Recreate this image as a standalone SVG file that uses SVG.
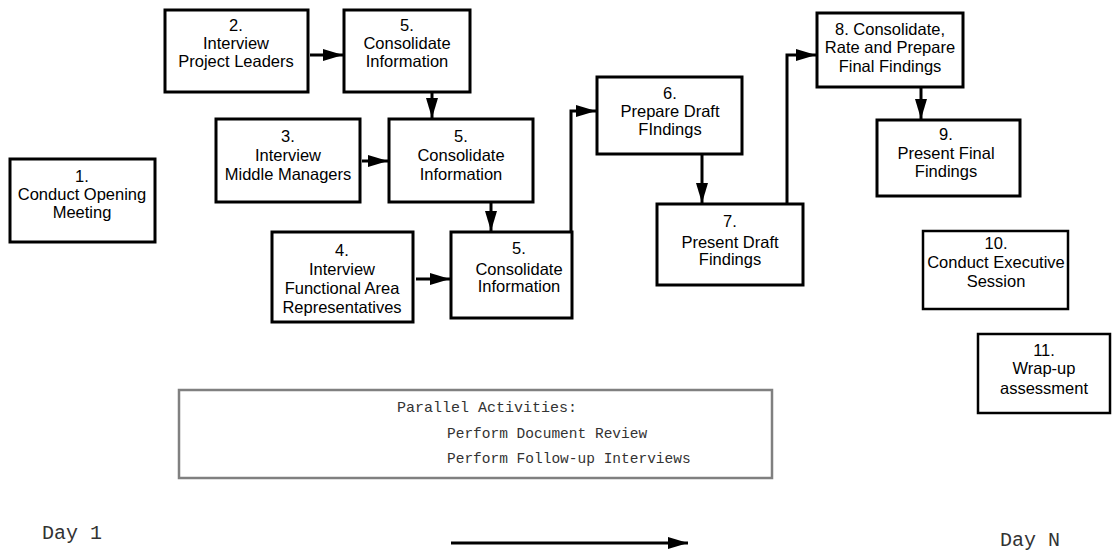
<svg xmlns="http://www.w3.org/2000/svg" width="1114" height="550" viewBox="0 0 1114 550">
<style>
.box{fill:#fff;stroke:#000;stroke-width:3}
.box2{fill:#fff;stroke:#000;stroke-width:2.5}
.t{font-family:"Liberation Sans",Arial,sans-serif;font-size:16.5px;fill:#000;text-anchor:middle}
.m{font-family:"Liberation Mono","Courier New",monospace;fill:#333}
.c{fill:none;stroke:#000;stroke-width:3;marker-end:url(#ah)}
</style>
<defs>
<marker id="ah" markerUnits="userSpaceOnUse" markerWidth="20" markerHeight="12" refX="20" refY="6" orient="auto">
<path d="M0,0 L20,6 L0,12 z" fill="#000"/>
</marker>
</defs>
<g id="n1"><rect class="box" x="10" y="159" width="145" height="83"/>
<text class="t" x="82" y="182">1.</text><text class="t" x="82" y="200">Conduct Opening</text><text class="t" x="82" y="218">Meeting</text></g>
<g id="n2"><rect class="box" x="165" y="10" width="143" height="82"/>
<text class="t" x="236" y="31">2.</text><text class="t" x="236" y="49">Interview</text><text class="t" x="236" y="67">Project Leaders</text></g>
<g id="n5a"><rect class="box" x="344" y="10" width="126" height="82"/>
<text class="t" x="407" y="31">5.</text><text class="t" x="407" y="49">Consolidate</text><text class="t" x="407" y="67">Information</text></g>
<g id="n3"><rect class="box" x="216" y="119" width="144" height="83"/>
<text class="t" x="288" y="142">3.</text><text class="t" x="288" y="161">Interview</text><text class="t" x="288" y="180">Middle Managers</text></g>
<g id="n5b"><rect class="box" x="389" y="119" width="144" height="83"/>
<text class="t" x="461" y="142">5.</text><text class="t" x="461" y="161">Consolidate</text><text class="t" x="461" y="180">Information</text></g>
<g id="n4"><rect class="box" x="272" y="232" width="141" height="90"/>
<text class="t" x="342" y="256">4.</text><text class="t" x="342" y="275">Interview</text><text class="t" x="342" y="294">Functional Area</text><text class="t" x="342" y="313">Representatives</text></g>
<g id="n5c"><rect class="box" x="451" y="232" width="121" height="86"/>
<text class="t" x="519" y="254">5.</text><text class="t" x="519" y="275">Consolidate</text><text class="t" x="519" y="292">Information</text></g>
<g id="n6"><rect class="box" x="597" y="77" width="145" height="77"/>
<text class="t" x="670" y="99">6.</text><text class="t" x="670" y="117">Prepare Draft</text><text class="t" x="670" y="135">FIndings</text></g>
<g id="n7"><rect class="box" x="657" y="204" width="146" height="81"/>
<text class="t" x="730" y="227">7.</text><text class="t" x="730" y="248">Present Draft</text><text class="t" x="730" y="265">Findings</text></g>
<g id="n8"><rect class="box" x="817" y="13" width="146" height="74"/>
<text class="t" x="890" y="35">8. Consolidate,</text><text class="t" x="890" y="53">Rate and Prepare</text><text class="t" x="890" y="72">Final Findings</text></g>
<g id="n9"><rect class="box" x="877" y="120" width="143" height="76"/>
<text class="t" x="946" y="140">9.</text><text class="t" x="946" y="159">Present Final</text><text class="t" x="946" y="177">Findings</text></g>
<g id="n10"><rect class="box2" x="923" y="231" width="145" height="78"/>
<text class="t" x="996" y="249">10.</text><text class="t" x="996" y="268">Conduct Executive</text><text class="t" x="996" y="287">Session</text></g>
<g id="n11"><rect class="box2" x="978" y="334" width="132" height="79"/>
<text class="t" x="1044" y="356">11.</text><text class="t" x="1044" y="374">Wrap-up</text><text class="t" x="1044" y="394">assessment</text></g>
<g id="parallel"><rect x="179" y="390" width="593" height="88" fill="#fff" stroke="#808080" stroke-width="2.5"/>
<text class="m" x="397" y="412" font-size="15">Parallel Activities:</text>
<text class="m" x="447" y="438" font-size="14.5">Perform Document Review</text>
<text class="m" x="447" y="463" font-size="14.5">Perform Follow-up Interviews</text></g>
<g id="timeline">
<text class="m" x="42" y="539" font-size="20">Day 1</text>
<text class="m" x="1000" y="546" font-size="20">Day N</text>
</g>
<g id="connectors">
<path class="c" d="M310,55 H343"/>
<path class="c" d="M432,93 V118"/>
<path class="c" d="M362,161 H388"/>
<path class="c" d="M491,203 V231"/>
<path class="c" d="M416,279 H450"/>
<path class="c" d="M571,231 V111 H596"/>
<path class="c" d="M702,155 V203"/>
<path class="c" d="M787,203 V55 H816"/>
<path class="c" d="M921,88 V119"/>
<path class="c" d="M451,543 H688"/>
</g>
</svg>
